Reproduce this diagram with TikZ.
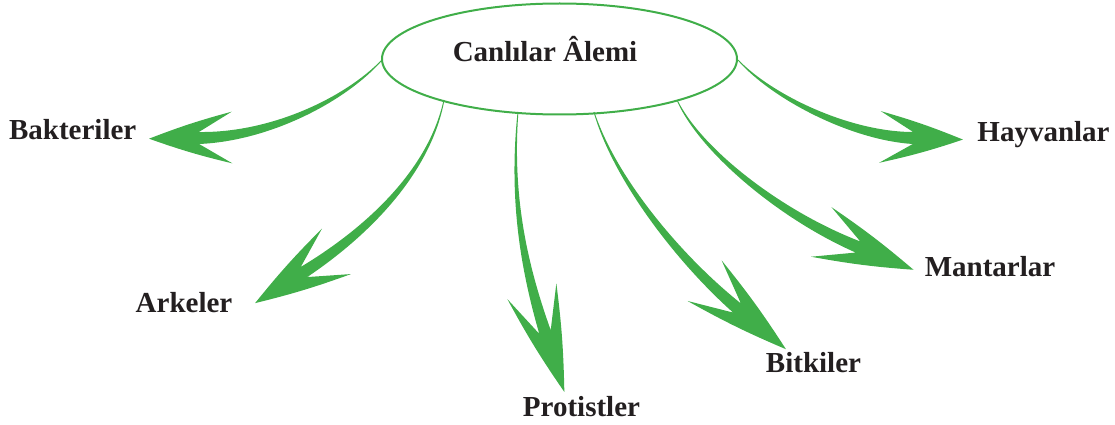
\documentclass[tikz,border=0pt]{standalone}
\usepackage{fontspec}
\setmainfont{Liberation Serif}
\usetikzlibrary{calc,shapes.geometric}
\definecolor{leafgreen}{RGB}{64,174,73}
\definecolor{inkdark}{RGB}{35,31,32}

% Tapered curved arrow: #1 start, #2 first control, #3 second control,
% #4 centre of the head's notch, #5 tip length, #6 barb distance, #7 barb angle
\newcommand\taperarrow[7]{%
  \fill[leafgreen]
    ($(#1)!0.4pt!90:(#2)$)
      .. controls ($(#2)!1.8pt!90:(#3)$) and ($(#3)!4pt!90:(#4)$) ..
    ($(#4)!6pt!-90:(#3)$)
    -- ($(#4)!#6!-#7:(#3)$)
    to[bend left=3] ($(#4)!-#5!(#3)$)
    to[bend left=3] ($(#4)!#6!#7:(#3)$)
    -- ($(#4)!6pt!90:(#3)$)
      .. controls ($(#3)!4pt!-90:(#4)$) and ($(#2)!1.8pt!-90:(#3)$) ..
    ($(#1)!0.4pt!-90:(#2)$) -- cycle;
}

\tikzset{
  lbl/.style={anchor=base, inner sep=0pt, text=inkdark,
    font=\fontsize{29}{34}\selectfont\bfseries},
  rootshape/.style={ellipse, draw=leafgreen, line width=2pt,
    minimum width=355pt, minimum height=111pt, inner sep=0pt}
}

\begin{document}
\begin{tikzpicture}[x=1pt, y=-1pt]
\useasboundingbox (0,0) rectangle (1115,425);

% central ellipse and its title
\node[rootshape] (root) at (559.5,59) {};
\node[lbl] (title) at (545,62) {Canlılar Âlemi};

% kingdom labels
\node[lbl] (bakteriler) at (72.7,139.3) {Bakteriler};
\node[lbl] (arkeler)    at (184,312.3)  {Arkeler};
\node[lbl] (protistler) at (581.5,416.7) {Protistler};
\node[lbl] (bitkiler)   at (813.5,372)  {Bitkiler};
\node[lbl] (mantarlar)  at (990,276.7)  {Mantarlar};
\node[lbl] (hayvanlar)  at (1043.5,141.7) {Hayvanlar};

% arrow paths: start on the ellipse, two controls, head notch
\coordinate (bak-s) at (382,60);  \coordinate (bak-a) at (345,100);
\coordinate (bak-b) at (270,137); \coordinate (bak-e) at (199,138);

\coordinate (ark-s) at (444,100); \coordinate (ark-a) at (430,170);
\coordinate (ark-b) at (370,230); \coordinate (ark-e) at (304,272);

\coordinate (pro-s) at (518,112); \coordinate (pro-a) at (510,200);
\coordinate (pro-b) at (525,270); \coordinate (pro-e) at (545,332);

\coordinate (bit-s) at (594,112); \coordinate (bit-a) at (615,180);
\coordinate (bit-b) at (680,260); \coordinate (bit-e) at (737,308);

\coordinate (man-s) at (677,100); \coordinate (man-a) at (700,150);
\coordinate (man-b) at (780,215); \coordinate (man-e) at (858,247);

\coordinate (hay-s) at (738,60);  \coordinate (hay-a) at (772,97);
\coordinate (hay-b) at (850,136); \coordinate (hay-e) at (913,138);

\taperarrow{bak-s}{bak-a}{bak-b}{bak-e}{50pt}{42pt}{38}
\taperarrow{ark-s}{ark-a}{ark-b}{ark-e}{58pt}{47pt}{35}
\taperarrow{pro-s}{pro-a}{pro-b}{pro-e}{63pt}{50pt}{31}
\taperarrow{bit-s}{bit-a}{bit-b}{bit-e}{64pt}{50pt}{32}
\taperarrow{man-s}{man-a}{man-b}{man-e}{60pt}{48pt}{34}
\taperarrow{hay-s}{hay-a}{hay-b}{hay-e}{50pt}{42pt}{38}
\end{tikzpicture}
\end{document}
